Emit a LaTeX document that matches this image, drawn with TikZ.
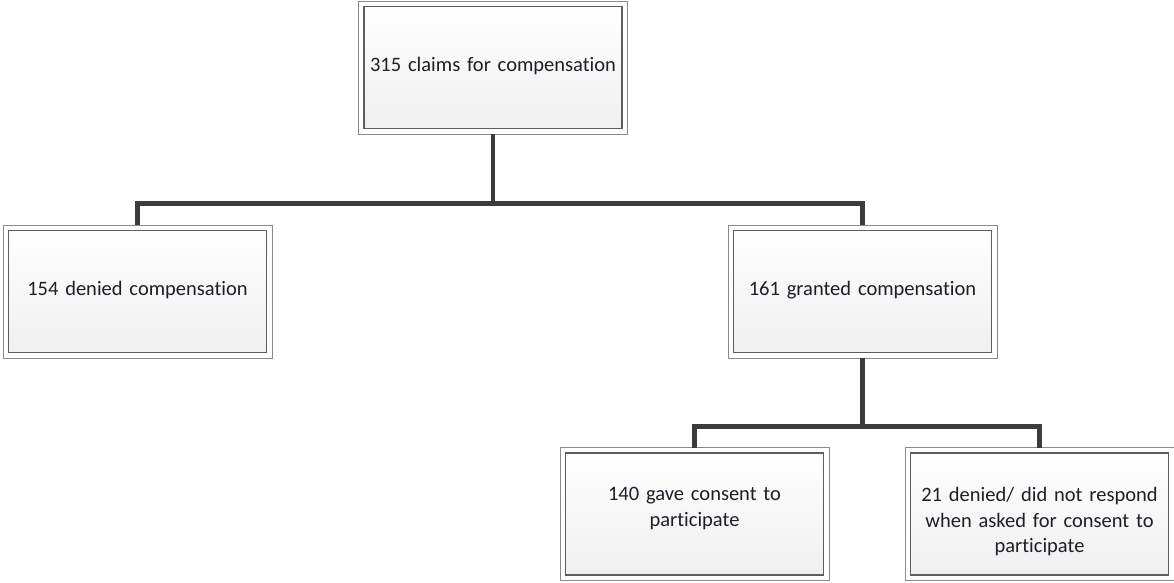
\documentclass[tikz,border=0pt]{standalone}
\usepackage{fontspec}
\setmainfont{Carlito}[Ligatures={NoCommon}]
\definecolor{outerc}{HTML}{8A8A8A}
\definecolor{innerc}{HTML}{5E5E5E}
\definecolor{connc}{HTML}{3C3C3C}
\definecolor{textc}{HTML}{1E1E28}
\definecolor{fillb}{HTML}{EFEFEF}
\begin{document}
\begin{tikzpicture}[x=1pt,y=-1pt,
  box/.style={rectangle, draw=outerc, line width=1pt, fill=white,
    minimum width=269pt, minimum height=133pt, inner sep=0pt, outer sep=0pt,
    text width=258pt, align=center, text=textc,
    font=\fontsize{20.5}{25.5}\selectfont,
    path picture={\draw[innerc, line width=1.6pt, top color=white, bottom color=fillb]
      ([shift={(5.5pt,-5.5pt)}]path picture bounding box.north west) rectangle
      ([shift={(-5.5pt,5.5pt)}]path picture bounding box.south east);}},
  conn/.style={draw=connc, line width=4.5pt}]
\useasboundingbox (0,0) rectangle (1174,582);
\node[box] (top) at (493,67.5) {315 claims for compensation\\[-19.5pt]\mbox{}};
\node[box] (den) at (137.5,291.5) {154 denied compensation\\[-19.5pt]\mbox{}};
\node[box] (gra) at (862.5,291.5) {161 granted compensation\\[-19.5pt]\mbox{}};
\node[box] (gave) at (694.5,514) {140 gave consent to\\participate\\[-11.5pt]\mbox{}};
\node[box] (no) at (1039.5,514) {\mbox{}\\[4.5pt]21 denied/ did not respond\\when asked for consent to\\participate};
\coordinate (b1) at (0,203.5);
\coordinate (b2) at (0,426.5);
\draw[conn] (top.south) -- (top.south |- b1) -| (den.north);
\draw[conn] (top.south |- b1) -| (gra.north);
\draw[conn] (gra.south) -- (gra.south |- b2) -| (gave.north);
\draw[conn] (gra.south |- b2) -| (no.north);
\end{tikzpicture}
\end{document}
